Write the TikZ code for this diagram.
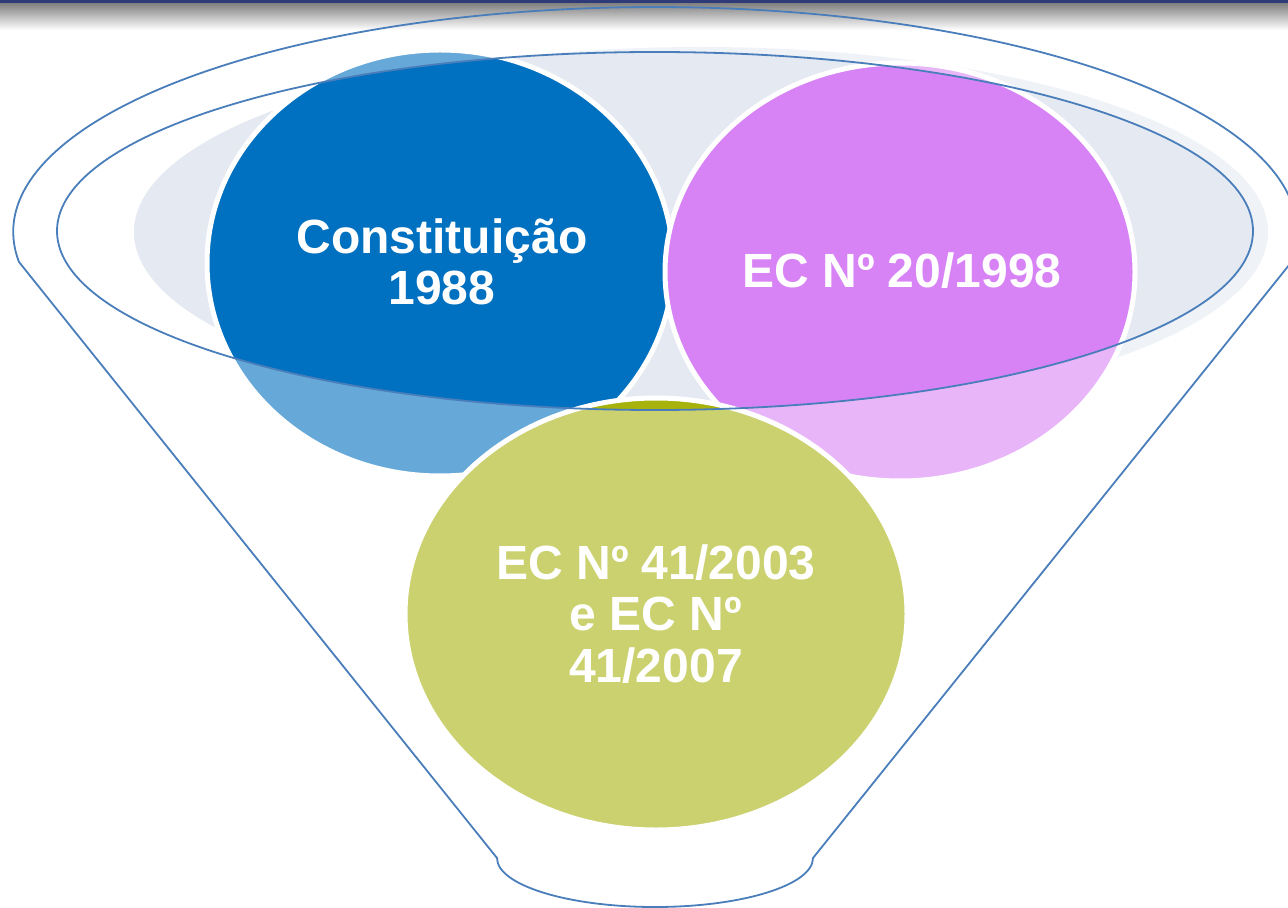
\documentclass[tikz,border=0pt]{standalone}
\usepackage{fontspec}
\setmainfont{Liberation Sans}
\definecolor{funnelline}{HTML}{4A7EBB}
\definecolor{topband}{HTML}{2E3B78}
\definecolor{greyfill}{HTML}{E4E9F2}
\definecolor{constblue}{HTML}{0070C0}
\definecolor{ecpink}{HTML}{D883F5}
\definecolor{ecolive}{HTML}{A8B20D}
\tikzset{
  outline/.style={draw=funnelline, line width=0.9pt},
  disc/.style={draw=white, line width=2.5pt},
  disctext/.style={text=white, font=\fontsize{24}{25.6}\selectfont\bfseries, align=center},
}
\begin{document}
\begin{tikzpicture}[x=0.5pt,y=0.5pt]
\useasboundingbox (0,0) rectangle (1288,-908);
\clip (0,0) rectangle (1288,-908);
\fill[top color=gray, bottom color=white] (0,-3) rectangle (1288,-30);
\fill[topband] (0,0) rectangle (1288,-3);
%
\coordinate (cinner) at (655,-231);
\coordinate (cgrey) at (701,-232);
\coordinate (cconst) at (440,-263);
\coordinate (cec20) at (900,-272);
\coordinate (cec41) at (656,-614);
%
\draw[outline] (19,-262) arc[start angle=187.66, end angle=-7.66, x radius=642, y radius=225]
  -- (813,-858) arc[start angle=0, end angle=-180, x radius=158, y radius=49] -- cycle;
%
\fill[greyfill!60!white] (cgrey) ellipse[x radius=567, y radius=185];
\draw[disc, fill=constblue!60!white] (cconst) ellipse[x radius=233, y radius=213];
\draw[disc, fill=ecpink!60!white] (cec20) ellipse[x radius=235, y radius=209];
\draw[disc, fill=ecolive!60!white] (cec41) ellipse[x radius=251, y radius=216];
%
\begin{scope}
\clip (cinner) ellipse[x radius=598, y radius=179];
\fill[greyfill] (cgrey) ellipse[x radius=567, y radius=185];
\draw[disc, fill=constblue] (cconst) ellipse[x radius=233, y radius=213];
\draw[disc, fill=ecpink] (cec20) ellipse[x radius=235, y radius=209];
\draw[disc, fill=ecolive] (cec41) ellipse[x radius=251, y radius=216];
\end{scope}
\draw[outline] (cinner) ellipse[x radius=598, y radius=179];
%
\node[disctext] (const) at (442,-262) {Constituição\\1988};
\node[disctext] (ec20) at (902,-271) {EC Nº 20/1998};
\node[disctext] (ec41) at (656,-614) {EC Nº 41/2003\\e EC Nº\\41/2007};
\end{tikzpicture}
\end{document}
